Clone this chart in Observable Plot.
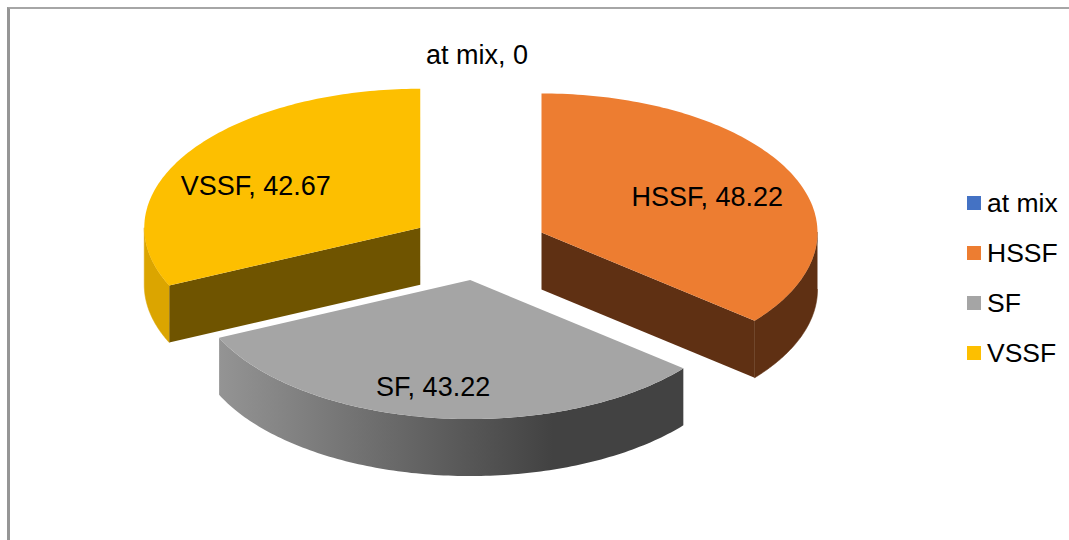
<!DOCTYPE html>
<html>
<head>
<meta charset="utf-8">
<script src="https://cdn.jsdelivr.net/npm/d3@7"></script>
<script src="https://cdn.jsdelivr.net/npm/@observablehq/plot@0.6"></script>
<style>
  html, body { margin: 0; padding: 0; background: #fff; overflow: hidden; }
  #stage { position: relative; width: 1069px; height: 540px; overflow: hidden; font-family: "Liberation Sans", Arial, sans-serif; }
  #frame { position: absolute; left: 7px; top: 7px; width: 1100px; height: 600px; border-left: 3px solid #969696; border-top: 2px solid #a6a6a6; box-sizing: border-box; }
  #chart { position: absolute; left: 0; top: 0; }
  #legend { position: absolute; left: 967px; top: 178px; }
  .row { position: relative; height: 50px; width: 100px; }
  .sw { position: absolute; left: 0; top: 18px; width: 14px; height: 14px; }
  .lb { position: absolute; left: 20px; top: 10px; font-size: 26.5px; line-height: 30px; color: #000; white-space: nowrap; }
</style>
</head>
<body>
<div id="stage"><div id="frame"></div><div id="chart"></div><div id="legend"></div></div>
<script>
// Data
const categories = ["at mix", "HSSF", "SF", "VSSF"];
const values = [0, 48.22, 43.22, 42.67];
const topColors = ["#4472c4", "#ed7d31", "#a5a5a5", "#fdbf00"];
const cutColors = ["#2a4478", "#5f3013", "#424242", "#6f5400"];
const rimColors = ["#2a4478", "#5f3013", "url(#sfRim)", "#dba500"];

// Layout of the tilted pie
const W = 1069, H = 540;
const cx = 479.5, cy = 246.6, rx = 276, ry = 139, depth = 57;
const explode = [68, 68, 68, 71];
const sliceShift = [[0, 0], [0, 0], [-1, -1], [0, 0]];
const labelFrac = 0.7;
const labelNudge = [[-3, -60], [-9, 6.5], [-12, 11], [-2, 11.4]];

const arcs = d3.pie().sort(null).value(d => d)(values);
const pt = (o, a, drop = 0) => ({x: o.x + rx * Math.sin(a), y: o.y - ry * Math.cos(a) + drop});
const sweep = (a0, a1) => d3.range(0, 121).map(i => a0 + (a1 - a0) * i / 120);
const Q = Math.PI / 2;

const faces = [];
const labels = [];
categories.forEach((name, i) => {
  const a0 = arcs[i].startAngle, a1 = arcs[i].endAngle, mid = (a0 + a1) / 2;
  const o = {
    x: cx + explode[i] * Math.sin(mid) + sliceShift[i][0],
    y: cy - explode[i] * (ry / rx) * Math.cos(mid) + sliceShift[i][1]
  };
  const l = pt(o, mid);
  labels.push({
    text: `${name}, ${values[i]}`,
    x: o.x + (l.x - o.x) * labelFrac + labelNudge[i][0],
    y: o.y + (l.y - o.y) * labelFrac + labelNudge[i][1]
  });
  if (a1 <= a0) return;
  // cut faces
  for (const a of [a0, a1]) {
    const e = pt(o, a);
    const faceVisible = (a === a1 && Math.sin(a) > 1e-6) || (a === a0 && Math.sin(a) < -1e-6);
    if (faceVisible) {
      faces.push({fill: cutColors[i], points: [o, e, {x: e.x, y: e.y + depth}, {x: o.x, y: o.y + depth}]});
    }
  }
  // outer rim: only the part of the arc that faces the viewer
  const r0 = Math.max(a0, Q), r1 = Math.min(a1, 3 * Q);
  if (r1 > r0) {
    const s = sweep(r0, r1);
    faces.push({fill: rimColors[i], seam: !rimColors[i].startsWith("url"), points: [...s.map(a => pt(o, a)), ...s.slice().reverse().map(a => pt(o, a, depth))]});
  }
  // top
  faces.push({fill: topColors[i], points: [o, ...sweep(a0, a1).map(a => pt(o, a))]});
});

const chart = Plot.plot({
  width: W, height: H,
  margin: 0,
  x: {domain: [0, W], range: [0, W], axis: null},
  y: {domain: [0, H], range: [0, H], axis: null},
  style: {background: "transparent"},
  marks: [
    ...faces.map(f => Plot.line(f.points, {x: "x", y: "y", fill: f.fill, stroke: f.seam ? f.fill : "none", strokeWidth: 0.6})),
    Plot.text(labels, {x: "x", y: "y", text: "text", fontSize: 27, fontFamily: "Liberation Sans, Arial, sans-serif", fill: "#000", textAnchor: "middle"})
  ]
});

// Horizontal shading of the SF rim
const NS = "http://www.w3.org/2000/svg";
const defs = document.createElementNS(NS, "defs");
const grad = document.createElementNS(NS, "linearGradient");
grad.setAttribute("id", "sfRim");
grad.setAttribute("x1", "0"); grad.setAttribute("x2", "1");
grad.setAttribute("y1", "0"); grad.setAttribute("y2", "0");
[["0", "#949494"], ["0.72", "#424242"], ["1", "#424242"]].forEach(([o, c]) => {
  const s = document.createElementNS(NS, "stop");
  s.setAttribute("offset", o); s.setAttribute("stop-color", c);
  grad.appendChild(s);
});
defs.appendChild(grad);
chart.insertBefore(defs, chart.firstChild);
document.getElementById("chart").appendChild(chart);

// Legend
const legend = document.getElementById("legend");
categories.forEach((name, i) => {
  const row = document.createElement("div"); row.className = "row";
  const sw = document.createElement("div"); sw.className = "sw"; sw.style.background = topColors[i];
  const lb = document.createElement("div"); lb.className = "lb"; lb.textContent = name;
  row.append(sw, lb); legend.appendChild(row);
});
</script>
</body>
</html>
